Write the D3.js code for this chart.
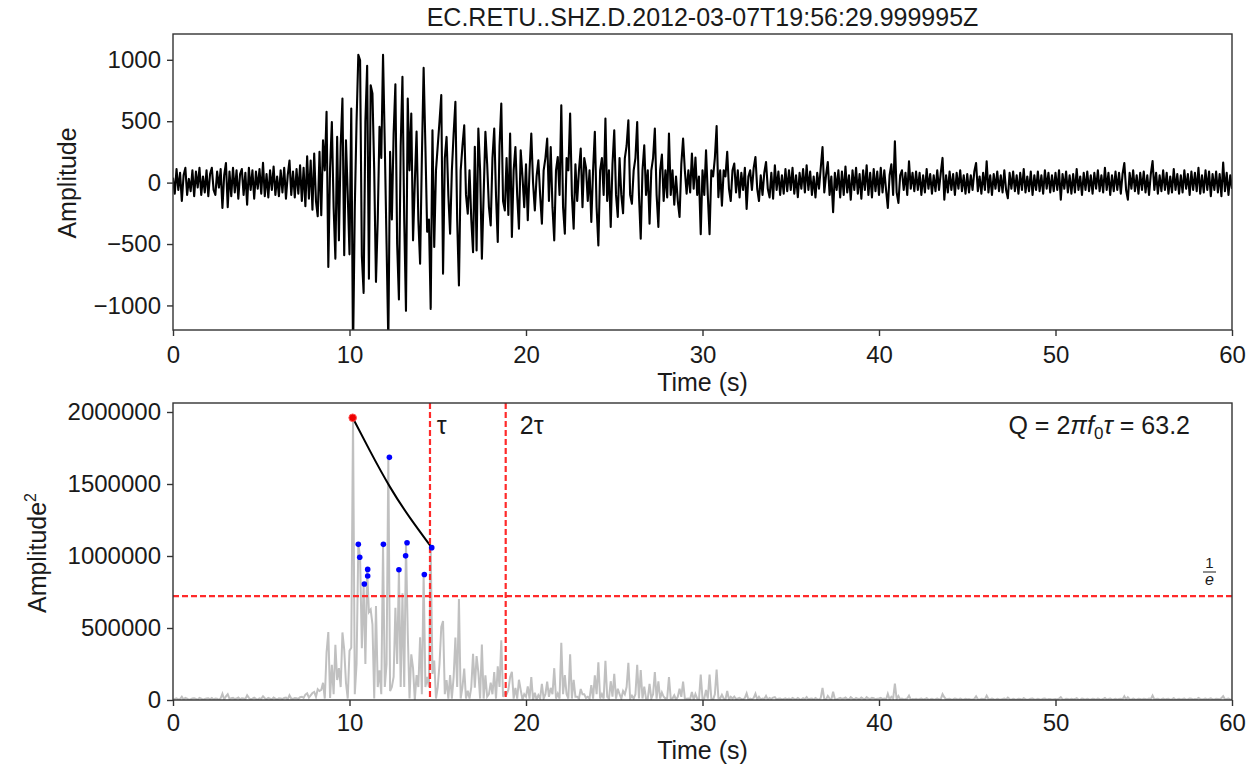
<!DOCTYPE html>
<html lang="en">
<head>
<meta charset="UTF-8">
<title>Q estimate</title>
<script src="https://cdn.jsdelivr.net/npm/d3@7/dist/d3.min.js"></script>
<style>
  body { margin: 0; background: #fff; }
  text { font-family: "Liberation Sans", Arial, sans-serif; fill: #1a1a1a; }
</style>
</head>
<body>
<script>
// seismogram, one row per second, 0.1 s step
const traceDt = 0.1;
const traceAmp = [
  40, -90, 110, -60, 80, -150, 60, 120, -100, 30,
  -70, 100, -110, 90, -40, 120, -100, 50, -80, 100,
  -110, 70, 120, -60, -100, 90, -40, 110, -207, 60,
  160, -200, 90, -110, 120, -80, 100, -130, 70, 110,
  -100, 80, -180, 120, -60, 100, -130, 90, -50, 110,
  -90, 161, -110, 70, -120, 100, -60, 130, -100, 50,
  -110, 100, -80, 120, -130, 60, 180, -100, 90, -120,
  110, -90, 140, -150, 120, -193, 215, -130, 180, -220,
  237, -150, -274, 250, -265, 345, 100, 576, -687, 120,
  494, -200, -619, 372, -470, 300, 685, -592, 345, -100,
  -584, 603, -1400, -200, 500, 1040, 995, -600, -898, 500,
  952, -782, 793, 725, 100, -808, -300, 454, 200, 1040,
  300, -500, -1298, 250, -300, 400, 800, -500, -951, 300,
  861, -300, -1044, 685, 100, 563, -470, 0, 416, -300,
  -660, 200, 934, 300, -400, -300, -1028, 426, -524, 100,
  300, 500, 712, -741, 200, 372, -100, -416, 100, 400,
  658, -300, -837, 100, 300, 467, -100, -253, 100, -300,
  -566, 291, -552, 440, 100, -620, -100, 413, 150, -200,
  -348, 200, 440, -100, -484, 300, 644, -150, -226, 200,
  -264, 399, -443, 100, 290, -100, -375, 263, 50, -200,
  150, -307, 100, 399, 0, -226, 50, 182, -100, -334,
  100, 200, 358, -150, 290, -200, -470, 100, 209, -100,
  630, -200, -416, 200, 100, 563, -100, -375, 150, -150,
  100, 277, -200, 200, 120, -150, 100, -321, 100, 413,
  -200, -511, 100, 200, -100, 522, -150, 100, -361, 150,
  426, -100, -280, 200, -100, -250, 200, 300, 508, -100,
  -172, 100, 200, 494, -100, -456, 100, 304, -100, 100,
  -334, 100, 200, 440, -100, -361, 100, 228, -150, 100,
  -120, 399, -100, 100, -180, 50, -150, -280, 150, 358,
  100, -90, 100, -80, 236, -50, 204, -100, 50, -420,
  100, -100, 263, -100, -420, 100, 50, 200, 460, -119,
  100, -188, 100, 50, 250, -50, -150, 100, 155, -80,
  100, -120, 80, -60, 120, -214, 50, 100, -60, 120,
  209, -50, -150, 60, -100, 80, 168, -50, -120, 80,
  -130, 141, -60, 90, -100, 60, -90, 110, -70, 100,
  -60, 120, -90, 60, -119, 80, -50, 110, -80, 141,
  -60, 90, -100, 50, -120, 80, -50, 120, 290, -80,
  60, 168, -100, 50, -240, 80, -60, 100, -120, 90,
  -100, 130, -80, 60, -140, 100, -60, 120, -90, 70,
  -130, 100, -60, 140, -100, 80, -120, 110, -70, 90,
  -100, 120, -80, 100, -60, -206, 60, 150, -100, 337,
  -80, -165, 60, 100, -60, 80, -100, 174, -50, 80,
  -70, 90, -60, 80, -100, 60, -80, 110, -50, 70,
  -90, 60, -70, 100, -60, 80, 201, -139, 60, -80,
  90, -60, 70, -100, 80, -50, 100, -70, 60, -90,
  70, -80, 60, -60, 90, 160, -70, 50, -90, 80,
  -60, 173, -80, 60, -100, 70, -50, 90, -70, 60,
  -80, 100, -60, -127, 80, -50, 90, -70, 60, -90,
  80, -60, 110, -80, 50, -70, 90, -100, 60, -60,
  90, -70, 60, -90, 100, -50, 80, -80, 60, -70,
  80, -60, 100, -139, 70, -50, 90, -80, 60, -90,
  70, -80, 110, -60, 50, -100, 80, -60, 90, -70,
  60, -90, 80, -50, 100, -70, 60, -80, 120, -60,
  80, -100, 60, -70, 90, -60, 80, -90, 70, 160,
  -60, -139, 80, -50, 100, -70, 60, -90, 80, -60,
  90, -80, 60, -100, 70, 175, -60, 80, -90, 60,
  -70, 100, -60, 80, -90, 50, -80, 110, -60, 70,
  -90, 60, -80, 100, -50, 70, -100, 90, -60, 80,
  -70, 120, -90, 60, -80, 100, -60, 90, -110, 70,
  -60, 90, -80, 70, -111, 163, -70, 80, -100, 60,
  -50
];

// picked maxima of amplitude^2 after the main peak
const blueT  = [10.50, 10.58, 10.84, 11.03, 11.03, 11.92, 12.26, 12.80, 13.18, 13.26, 14.24, 14.66];
const blueA2 = [1081000, 991000, 806000, 907000, 861000, 1081000, 1685000, 905000, 1001000, 1092000, 872000, 1058000];
const peakT = 10.18, peakA2 = 1960000;

// fitted decay curve
const fitT  = [10.18, 11.16, 12.29, 13.43, 14.66];
const fitA2 = [1960000, 1730000, 1480000, 1265000, 1058000];

const tauT = 14.56, tau2T = 18.85;
const labelT = [14.95, 19.65];   // where the τ and 2τ words sit
const qValue = 63.2;

const xTicks = [0, 10, 20, 30, 40, 50, 60];
const yTicksTop = [-1000, -500, 0, 500, 1000];
const yTicksBot = [0, 500000, 1000000, 1500000, 2000000];

const W = 1254, H = 767;
const L = 173, R = 1232;
const fsTick = 24, fsLabel = 25, fsTitle = 25;

const svg = d3.select('body').append('svg').attr('width', W).attr('height', H);

const x = d3.scaleLinear().domain([0, 60]).range([L, R]);
const yTop = d3.scaleLinear().domain([-1200, 1210]).range([330, 34]);
const yBot = d3.scaleLinear().domain([0, 2062500]).range([700, 403]);

const trace = traceAmp.map((a, i) => ({t: i * traceDt, a: a}));

svg.append('clipPath').attr('id', 'clipTop')
  .append('rect').attr('x', L).attr('y', 34).attr('width', R - L).attr('height', 296);
svg.append('clipPath').attr('id', 'clipBot')
  .append('rect').attr('x', L).attr('y', 403).attr('width', R - L).attr('height', 297);

// ---- top panel
svg.append('path')
  .datum(trace)
  .attr('clip-path', 'url(#clipTop)')
  .attr('fill', 'none')
  .attr('stroke', '#000')
  .attr('stroke-width', 2.1)
  .attr('stroke-linejoin', 'round')
  .attr('d', d3.line().x(d => x(d.t)).y(d => yTop(d.a)));

// ---- bottom panel
const g2 = svg.append('g').attr('clip-path', 'url(#clipBot)');
g2.append('path')
  .datum(trace)
  .attr('fill', 'none')
  .attr('stroke', '#c0c0c0')
  .attr('stroke-width', 2)
  .attr('d', d3.line().x(d => x(d.t)).y(d => yBot(d.a * d.a)));

g2.append('path')
  .datum(fitT.map((t, i) => [t, fitA2[i]]))
  .attr('fill', 'none')
  .attr('stroke', '#000')
  .attr('stroke-width', 2)
  .attr('d', d3.line().curve(d3.curveNatural).x(d => x(d[0])).y(d => yBot(d[1])));

const dash = '6,3';
[tauT, tau2T].forEach(t => {
  g2.append('line')
    .attr('x1', x(t)).attr('x2', x(t)).attr('y1', 403).attr('y2', 700)
    .attr('stroke', '#ff2a2a').attr('stroke-width', 2.2).attr('stroke-dasharray', dash);
});
g2.append('line')
  .attr('x1', L).attr('x2', R).attr('y1', yBot(peakA2 / Math.E)).attr('y2', yBot(peakA2 / Math.E))
  .attr('stroke', '#ff2a2a').attr('stroke-width', 2.2).attr('stroke-dasharray', dash);

g2.selectAll('circle.blue')
  .data(blueT.map((t, i) => [t, blueA2[i]]))
  .enter().append('circle')
  .attr('class', 'blue')
  .attr('cx', d => x(d[0])).attr('cy', d => yBot(d[1])).attr('r', 2.8)
  .attr('fill', '#0000ff');

g2.append('circle')
  .attr('cx', x(peakT)).attr('cy', yBot(peakA2)).attr('r', 3.8)
  .attr('fill', '#ee0000').attr('stroke', '#ff5050').attr('stroke-width', 1);

// ---- axes
function styleAxis(g) {
  g.select('.domain').remove();
  g.selectAll('.tick line').attr('stroke', '#333').attr('stroke-width', 1.4);
  g.selectAll('.tick text').attr('font-size', fsTick).attr('fill', '#1a1a1a')
    .attr('font-family', '"Liberation Sans", Arial, sans-serif');
}

svg.append('g').attr('transform', 'translate(0,330)')
  .call(d3.axisBottom(x).tickValues(xTicks).tickSize(6).tickPadding(10).tickFormat(d3.format('d')))
  .call(styleAxis);
svg.append('g').attr('transform', 'translate(0,700)')
  .call(d3.axisBottom(x).tickValues(xTicks).tickSize(6).tickPadding(8).tickFormat(d3.format('d')))
  .call(styleAxis);
svg.append('g').attr('transform', 'translate(' + L + ',0)')
  .call(d3.axisLeft(yTop).tickValues(yTicksTop).tickSize(6).tickPadding(6).tickFormat(d3.format('d')))
  .call(styleAxis);
svg.append('g').attr('transform', 'translate(' + L + ',0)')
  .call(d3.axisLeft(yBot).tickValues(yTicksBot).tickSize(6).tickPadding(6).tickFormat(d3.format('d')))
  .call(styleAxis);

// frames
[[34, 330], [403, 700]].forEach(b => {
  svg.append('rect')
    .attr('x', L).attr('y', b[0]).attr('width', R - L).attr('height', b[1] - b[0])
    .attr('fill', 'none').attr('stroke', '#333').attr('stroke-width', 1.4);
});

// ---- texts
svg.append('text').attr('x', (L + R) / 2).attr('y', 26).attr('text-anchor', 'middle')
  .attr('font-size', fsTitle).text('EC.RETU..SHZ.D.2012-03-07T19:56:29.999995Z');

svg.append('text').attr('x', (L + R) / 2).attr('y', 391).attr('text-anchor', 'middle')
  .attr('font-size', fsLabel).text('Time (s)');
svg.append('text').attr('x', (L + R) / 2).attr('y', 759).attr('text-anchor', 'middle')
  .attr('font-size', fsLabel).text('Time (s)');

svg.append('text').attr('transform', 'translate(76,183) rotate(-90)').attr('text-anchor', 'middle')
  .attr('font-size', fsLabel).text('Amplitude');
const yl2 = svg.append('text').attr('transform', 'translate(46,553) rotate(-90)').attr('text-anchor', 'middle')
  .attr('font-size', fsLabel);
yl2.append('tspan').text('Amplitude');
yl2.append('tspan').attr('dy', -10).attr('font-size', 16).text('2');

svg.append('text').attr('x', x(labelT[0])).attr('y', 434).attr('font-size', fsLabel).text('τ');
svg.append('text').attr('x', x(labelT[1])).attr('y', 434).attr('font-size', fsLabel).text('2τ');

const q = svg.append('text').attr('x', 1190).attr('y', 434).attr('text-anchor', 'end').attr('font-size', fsLabel);
q.append('tspan').text('Q = 2');
q.append('tspan').attr('font-style', 'italic').text('π');
q.append('tspan').attr('font-style', 'italic').text('f');
q.append('tspan').attr('dy', 5).attr('font-size', 17).text('0');
q.append('tspan').attr('dy', -5).attr('font-style', 'italic').text('τ');
q.append('tspan').text(' = ' + qValue);

// 1/e label
svg.append('text').attr('x', 1209.5).attr('y', 568).attr('text-anchor', 'middle').attr('font-size', 15).text('1');
svg.append('line').attr('x1', 1203).attr('x2', 1216).attr('y1', 572).attr('y2', 572)
  .attr('stroke', '#1a1a1a').attr('stroke-width', 1);
svg.append('text').attr('x', 1209.5).attr('y', 585).attr('text-anchor', 'middle').attr('font-size', 16)
  .attr('font-style', 'italic').text('e');
</script>
</body>
</html>
